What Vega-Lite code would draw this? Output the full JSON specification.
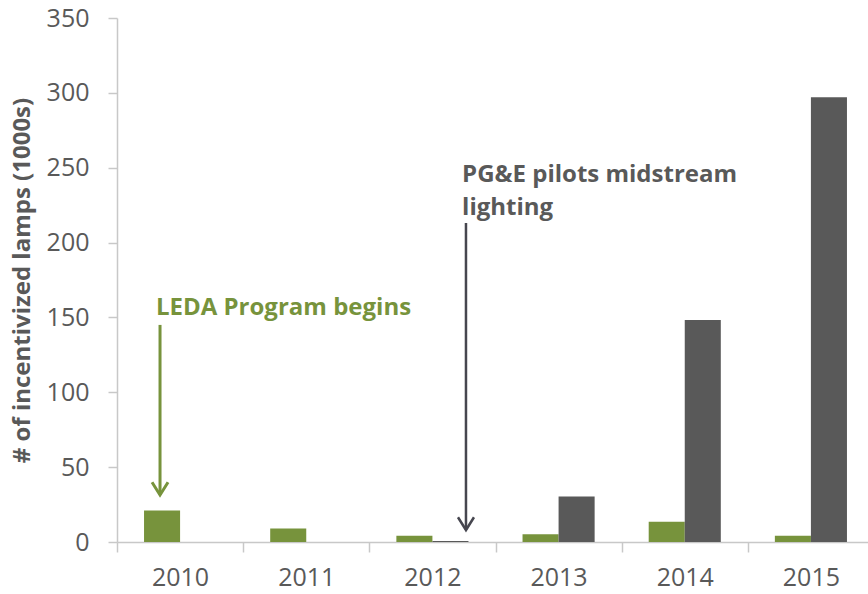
{
  "$schema": "https://vega.github.io/schema/vega-lite/v6.json",
  "autosize": "none",
  "width": 750,
  "height": 524,
  "padding": {"left": 117, "top": 18, "right": 1, "bottom": 52},
  "background": "white",
  "config": {
    "font": "Open Sans",
    "view": {"stroke": null}
  },
  "datasets": {
    "bars": [
      {"year": "2010", "series": "LEDA", "value": 21},
      {"year": "2010", "series": "PGE", "value": 0},
      {"year": "2011", "series": "LEDA", "value": 9.1},
      {"year": "2011", "series": "PGE", "value": 0},
      {"year": "2012", "series": "LEDA", "value": 4.2},
      {"year": "2012", "series": "PGE", "value": 0.6},
      {"year": "2013", "series": "LEDA", "value": 5.1},
      {"year": "2013", "series": "PGE", "value": 30.4},
      {"year": "2014", "series": "LEDA", "value": 13.6},
      {"year": "2014", "series": "PGE", "value": 148.2},
      {"year": "2015", "series": "LEDA", "value": 4.2},
      {"year": "2015", "series": "PGE", "value": 297}
    ],
    "leda": [
      {"year": "2010", "label": "LEDA Program begins", "textY": 151.6, "top": 145, "tip": 31.4}
    ],
    "pge": [
      {"year": "2012", "label": "PG&E pilots midstream\nlighting", "textY": 240.5, "top": 213, "tip": 8}
    ]
  },
  "layer": [
    {
      "data": {"name": "bars"},
      "mark": {"type": "bar"},
      "encoding": {
        "x": {
          "field": "year", "type": "ordinal",
          "scale": {"paddingInner": 0, "paddingOuter": 0, "range": [0, 757]},
          "axis": {
            "title": null,
            "labelAngle": 0,
            "labelFontSize": 25,
            "labelColor": "#595959",
            "labelPadding": 13,
            "domainColor": "#c8c8c8",
            "domainWidth": 1.5,
            "tickColor": "#c8c8c8",
            "tickWidth": 1.5,
            "tickSize": 10,
            "tickBand": "extent",
            "grid": false
          }
        },
        "xOffset": {"field": "series", "type": "nominal", "scale": {"domain": ["LEDA", "PGE"], "paddingInner": 0, "paddingOuter": 0.75}},
        "y": {
          "field": "value", "type": "quantitative",
          "scale": {"domain": [0, 350], "nice": false},
          "axis": {
            "title": "# of incentivized lamps (1000s)",
            "titleFontSize": 24,
            "titleFontWeight": "bold",
            "titleColor": "#595959",
            "titlePadding": 12,
            "values": [0, 50, 100, 150, 200, 250, 300, 350],
            "labelFontSize": 25,
            "labelColor": "#595959",
            "labelPadding": 19,
            "domainColor": "#c8c8c8",
            "domainWidth": 1.5,
            "tickColor": "#c8c8c8",
            "tickWidth": 1.5,
            "tickSize": 9,
            "grid": false
          }
        },
        "color": {
          "field": "series", "type": "nominal",
          "scale": {"domain": ["LEDA", "PGE"], "range": ["#77933c", "#595959"]},
          "legend": null
        }
      }
    },
    {
      "data": {"name": "leda"},
      "mark": {"type": "text", "align": "left", "baseline": "alphabetic", "fontSize": 24, "fontWeight": "bold", "color": "#77933c"},
      "encoding": {
        "x": {"field": "year", "type": "ordinal", "bandPosition": 0.309},
        "y": {"field": "textY", "type": "quantitative"},
        "text": {"field": "label"}
      }
    },
    {
      "data": {"name": "leda"},
      "mark": {"type": "rule", "color": "#77933c", "strokeWidth": 3},
      "encoding": {
        "x": {"field": "year", "type": "ordinal", "bandPosition": 0.341},
        "y": {"field": "top", "type": "quantitative"},
        "y2": {"field": "tip"}
      }
    },
    {
      "data": {"name": "leda"},
      "mark": {"type": "point", "shape": "M-1,-1.6L0,0L1,-1.6", "filled": false, "size": 256, "strokeWidth": 3, "color": "#77933c", "opacity": 1},
      "encoding": {
        "x": {"field": "year", "type": "ordinal", "bandPosition": 0.341},
        "y": {"field": "tip", "type": "quantitative"}
      }
    },
    {
      "data": {"name": "pge"},
      "mark": {"type": "text", "align": "left", "baseline": "alphabetic", "fontSize": 24, "fontWeight": "bold", "color": "#595959", "lineBreak": "\n", "lineHeight": 33},
      "encoding": {
        "x": {"field": "year", "type": "ordinal", "bandPosition": 0.735},
        "y": {"field": "textY", "type": "quantitative"},
        "text": {"field": "label"}
      }
    },
    {
      "data": {"name": "pge"},
      "mark": {"type": "rule", "color": "#46464f", "strokeWidth": 2.5},
      "encoding": {
        "x": {"field": "year", "type": "ordinal", "bandPosition": 0.766},
        "y": {"field": "top", "type": "quantitative"},
        "y2": {"field": "tip"}
      }
    },
    {
      "data": {"name": "pge"},
      "mark": {"type": "point", "shape": "M-1,-1.6L0,0L1,-1.6", "filled": false, "size": 256, "strokeWidth": 2.5, "color": "#46464f", "opacity": 1},
      "encoding": {
        "x": {"field": "year", "type": "ordinal", "bandPosition": 0.766},
        "y": {"field": "tip", "type": "quantitative"}
      }
    }
  ]
}
